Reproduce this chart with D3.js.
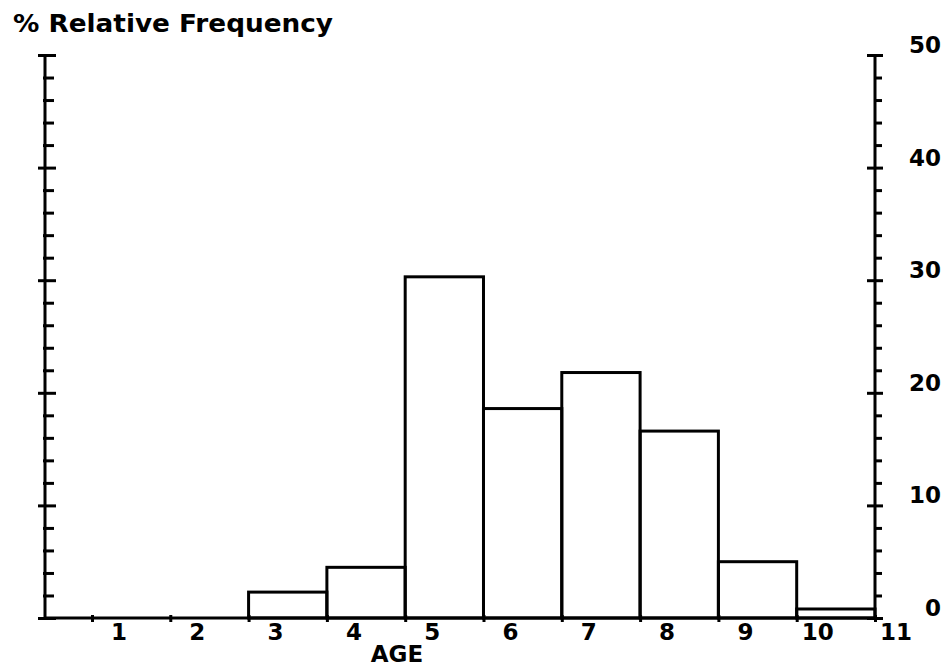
<!DOCTYPE html>
<html>
<head>
<meta charset="utf-8">
<script src="https://cdn.jsdelivr.net/npm/d3@7"></script>
<style>
  body { margin: 0; background: #fff; }
  svg text { font-family: "DejaVu Sans", sans-serif; font-weight: bold; fill: #000; }
</style>
</head>
<body>
<svg id="chart" width="947" height="666"></svg>
<script>
// data
var ages = [1, 2, 3, 4, 5, 6, 7, 8, 9, 10];
var freq = [0, 0, 2.3, 4.5, 30.3, 18.6, 21.8, 16.6, 5.0, 0.8];
var xTickLabels = ["1", "2", "3", "4", "5", "6", "7", "8", "9", "10", "11"];
var yTickLabels = [0, 10, 20, 30, 40, 50];

var svg = d3.select("#chart");
// note: "top" is taken by window.top, so plot edges get their own names
var plotLeft = 45, plotRight = 875, plotTop = 55, plotBottom = 618;

// x: each bin n runs from tick n to tick n+1
var x = d3.scaleLinear().domain([0.4, 11]).range([plotLeft, plotRight]);
var y = d3.scaleLinear().domain([0, 50]).range([plotBottom, plotTop]);

var major = d3.range(0, 51, 10);
var minor = d3.range(0, 51, 2).filter(function(v) { return v % 10 != 0; });

// bars
svg.selectAll(".bar")
   .data(freq)
   .enter()
   .append("rect")
   .attr("class", "bar")
   .attr("x", function(d, i) { return x(ages[i]); })
   .attr("y", function(d) { return y(d); })
   .attr("width", function(d, i) { return x(ages[i] + 1) - x(ages[i]); })
   .attr("height", function(d) { return plotBottom - y(d); })
   .attr("fill", "none")
   .attr("stroke", function(d) { return d > 0 ? "#000" : "none"; })
   .attr("stroke-width", 3);

// helper to make tick lines that cross the axis line
function styleAxis(g, a, b) {
  g.select(".domain").remove();
  g.selectAll(".tick line").attr("stroke", "#000").attr("stroke-width", 3)
   .attr("x1", a).attr("x2", b);
  g.selectAll(".tick text").remove();
}

// left axis
var gl = svg.append("g").attr("transform", "translate(" + plotLeft + ",0)");
gl.append("g").call(d3.axisLeft(y).tickValues(major)).call(styleAxis, -7, 11);
gl.append("g").call(d3.axisLeft(y).tickValues(minor)).call(styleAxis, -2, 9);
gl.append("line").attr("y1", y(50)).attr("y2", plotBottom)
  .attr("stroke", "#000").attr("stroke-width", 3);

// right axis
var gr = svg.append("g").attr("transform", "translate(" + plotRight + ",0)");
gr.append("g").call(d3.axisRight(y).tickValues(major)).call(styleAxis, -8, 8);
gr.append("g").call(d3.axisRight(y).tickValues(minor)).call(styleAxis, 0, 7);
gr.append("line").attr("y1", y(50)).attr("y2", plotBottom)
  .attr("stroke", "#000").attr("stroke-width", 3);

svg.selectAll(".rlab")
   .data(yTickLabels)
   .enter()
   .append("text")
   .attr("class", "rlab")
   .attr("x", 941)
   .attr("y", function(d) { return y(d) - 10; })
   .attr("text-anchor", "end")
   .attr("dominant-baseline", "central")
   .style("font-size", "23px")
   .text(function(d) { return d; });

// x axis
var gx = svg.append("g").attr("transform", "translate(0," + plotBottom + ")");
gx.call(d3.axisBottom(x).tickValues(d3.range(1, 12)).tickSize(0).tickFormat(""));
gx.select(".domain").attr("stroke", "#000").attr("stroke-width", 3)
  .attr("d", "M" + plotLeft + ",0H" + plotRight);
gx.selectAll(".tick line").attr("stroke", "#000").attr("stroke-width", 3)
  .attr("y1", -3).attr("y2", 4);

svg.selectAll(".xlab")
   .data(xTickLabels)
   .enter()
   .append("text")
   .attr("class", "xlab")
   .attr("x", function(d, i) { return x(i + 1) + (d.length > 1 ? 21 : 27); })
   .attr("y", 632)
   .attr("text-anchor", "middle")
   .attr("dominant-baseline", "central")
   .style("font-size", "23px")
   .text(function(d) { return d; });

svg.append("text")
   .attr("x", 397)
   .attr("y", 654)
   .attr("text-anchor", "middle")
   .attr("dominant-baseline", "central")
   .style("font-size", "23px")
   .text("AGE");

// title
svg.append("text")
   .attr("x", 13)
   .attr("y", 32)
   .attr("textLength", 320)
   .attr("lengthAdjust", "spacingAndGlyphs")
   .style("font-size", "24px")
   .text("% Relative Frequency");
</script>
</body>
</html>
